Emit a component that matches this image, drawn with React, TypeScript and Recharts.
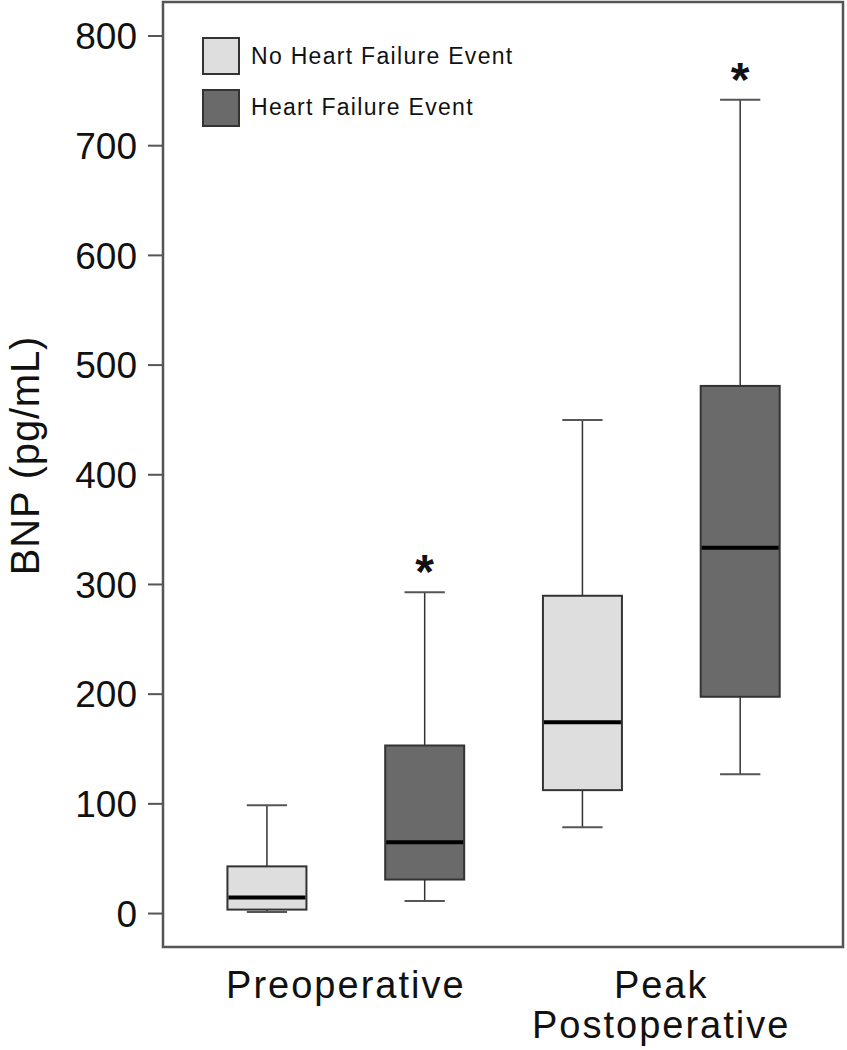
import {
  ComposedChart,
  Bar,
  XAxis,
  YAxis,
  Legend,
  LabelList,
  ReferenceArea,
} from "recharts";

// box order: preop / no HF, preop / HF, peak / no HF, peak / HF
const categories = ["Preoperative", "Peak Postoperative"];
const groups = ["No Heart Failure Event", "Heart Failure Event"];
const groupFills = ["#dedede", "#6a6a6a"];

const boxIds = ["pre-no", "pre-hf", "peak-no", "peak-hf"];
const boxGroup = [0, 1, 0, 1];
const whiskerLow = [1.5, 11.5, 78.7, 127];
const quart1 = [3.6, 31, 112.5, 197.6];
const medians = [14.6, 65, 174.5, 333.5];
const quart3 = [43, 153.2, 289.7, 481];
const whiskerHigh = [98.8, 292.8, 450, 742];
const significant = [false, true, false, true];

const yTicks = [0, 100, 200, 300, 400, 500, 600, 700, 800];
const labelTicks = [1.5, 3.5];

const data = boxIds.map((id, i) => ({
  id,
  pos: i + 1,
  group: boxGroup[i],
  min: whiskerLow[i],
  q1: quart1[i],
  median: medians[i],
  q3: quart3[i],
  max: whiskerHigh[i],
  sig: significant[i] ? "*" : "",
}));

const FONT = '"Liberation Sans", Arial, Helvetica, sans-serif';
const AXIS = "#555";

function BoxShape(props: any) {
  const { x, y, width, height, payload } = props;
  const top = Math.min(y, y + height);
  const h = Math.abs(height);
  const span = payload.max - payload.min;
  const py = (v: number) => top + (h * (payload.max - v)) / span;
  const cx = x + width / 2;
  const capW = width * 0.51;
  return (
    <g>
      <line x1={cx} x2={cx} y1={py(payload.max)} y2={py(payload.min)} stroke="#333" strokeWidth={1.5} />
      <line x1={cx - capW / 2} x2={cx + capW / 2} y1={py(payload.max)} y2={py(payload.max)} stroke="#555" strokeWidth={2} />
      <line x1={cx - capW / 2} x2={cx + capW / 2} y1={py(payload.min)} y2={py(payload.min)} stroke="#555" strokeWidth={2} />
      <rect
        x={x}
        y={py(payload.q3)}
        width={width}
        height={py(payload.q1) - py(payload.q3)}
        fill={groupFills[payload.group]}
        stroke="#333"
        strokeWidth={2}
      />
      <line x1={x + 1} x2={x + width - 1} y1={py(payload.median)} y2={py(payload.median)} stroke="#000" strokeWidth={4} />
    </g>
  );
}

function Star(props: any) {
  const { x, y, width, value } = props;
  if (!value) return null;
  return (
    <text x={x + width / 2} y={y - 4} textAnchor="middle" fontSize={48} fontWeight="bold" fontFamily={FONT} fill="#111">
      {value}
    </text>
  );
}

function CategoryTick(props: any) {
  const { x, y, payload } = props;
  const idx = labelTicks.indexOf(payload.value);
  const words = categories[idx] === "Peak Postoperative" ? ["Peak", "Postoperative"] : [categories[idx]];
  return (
    <text x={x} y={y} textAnchor="middle" fontSize={38} letterSpacing={2} fontFamily={FONT} fill="#111">
      {words.map((w, i) => (
        <tspan key={w} x={x} dy={i === 0 ? 51 : 40}>
          {w}
        </tspan>
      ))}
    </text>
  );
}

function YLabel(props: any) {
  const { viewBox } = props;
  const cx = viewBox.x + 39;
  const cy = viewBox.y + viewBox.height / 2 - 19;
  return (
    <text
      x={cx}
      y={cy}
      transform={`rotate(-90 ${cx} ${cy})`}
      textAnchor="middle"
      fontSize={40}
      letterSpacing={0.8}
      fontFamily={FONT}
      fill="#111"
    >
      BNP (pg/mL)
    </text>
  );
}

function LegendBox() {
  return (
    <div style={{ position: "relative", width: 340, height: 100, fontFamily: FONT }}>
      {groups.map((g, i) => (
        <div key={g} style={{ position: "absolute", left: 0, top: i * 51.5, display: "flex", alignItems: "center" }}>
          <div
            style={{
              width: 34,
              height: 34,
              background: groupFills[i],
              border: "2px solid #333",
              boxSizing: "content-box",
            }}
          />
          <span style={{ marginLeft: 11, fontSize: 23, letterSpacing: 1.3, color: "#111", whiteSpace: "nowrap" }}>{g}</span>
        </div>
      ))}
    </div>
  );
}

export default function App() {
  return (
    <div style={{ position: "absolute", left: 0, top: 0, background: "#fff" }}>
      <ComposedChart
        width={847}
        height={1050}
        data={data}
        margin={{ top: 2, right: 4, left: 0, bottom: 0 }}
        barCategoryGap="25%"
      >
        <XAxis dataKey="id" xAxisId="box" hide height={0} padding={{ left: 25, right: 24 }} />
        <XAxis
          xAxisId="lbl"
          dataKey="pos"
          type="number"
          domain={[0.3405, 4.653]}
          allowDataOverflow
          ticks={labelTicks}
          height={103}
          tickLine={false}
          tickSize={0}
          tickMargin={0}
          axisLine={{ stroke: AXIS, strokeWidth: 2 }}
          tick={<CategoryTick />}
        />
        <YAxis
          domain={[-30.5, 831]}
          allowDataOverflow
          ticks={yTicks}
          width={163}
          tickSize={15}
          tickMargin={11}
          axisLine={{ stroke: AXIS, strokeWidth: 2 }}
          tickLine={{ stroke: AXIS, strokeWidth: 2 }}
          tick={{ fontSize: 37, fill: "#111", fontFamily: FONT }}
          label={(p: any) => <YLabel {...p} />}
        />
        <ReferenceArea
          xAxisId="lbl"
          y1={-30.5}
          y2={831}
          fill="none"
          stroke={AXIS}
          strokeWidth={2.5}
          ifOverflow="visible"
        />
        <Legend
          layout="vertical"
          align="center"
          verticalAlign="middle"
          wrapperStyle={{ position: "absolute", left: 202, top: 37, width: 340 }}
          content={() => <LegendBox />}
        />
        <Bar
          xAxisId="box"
          dataKey={(d: any) => [d.min, d.max]}
          shape={<BoxShape />}
          isAnimationActive={false}
        >
          <LabelList dataKey="sig" content={<Star />} />
        </Bar>
      </ComposedChart>
    </div>
  );
}
